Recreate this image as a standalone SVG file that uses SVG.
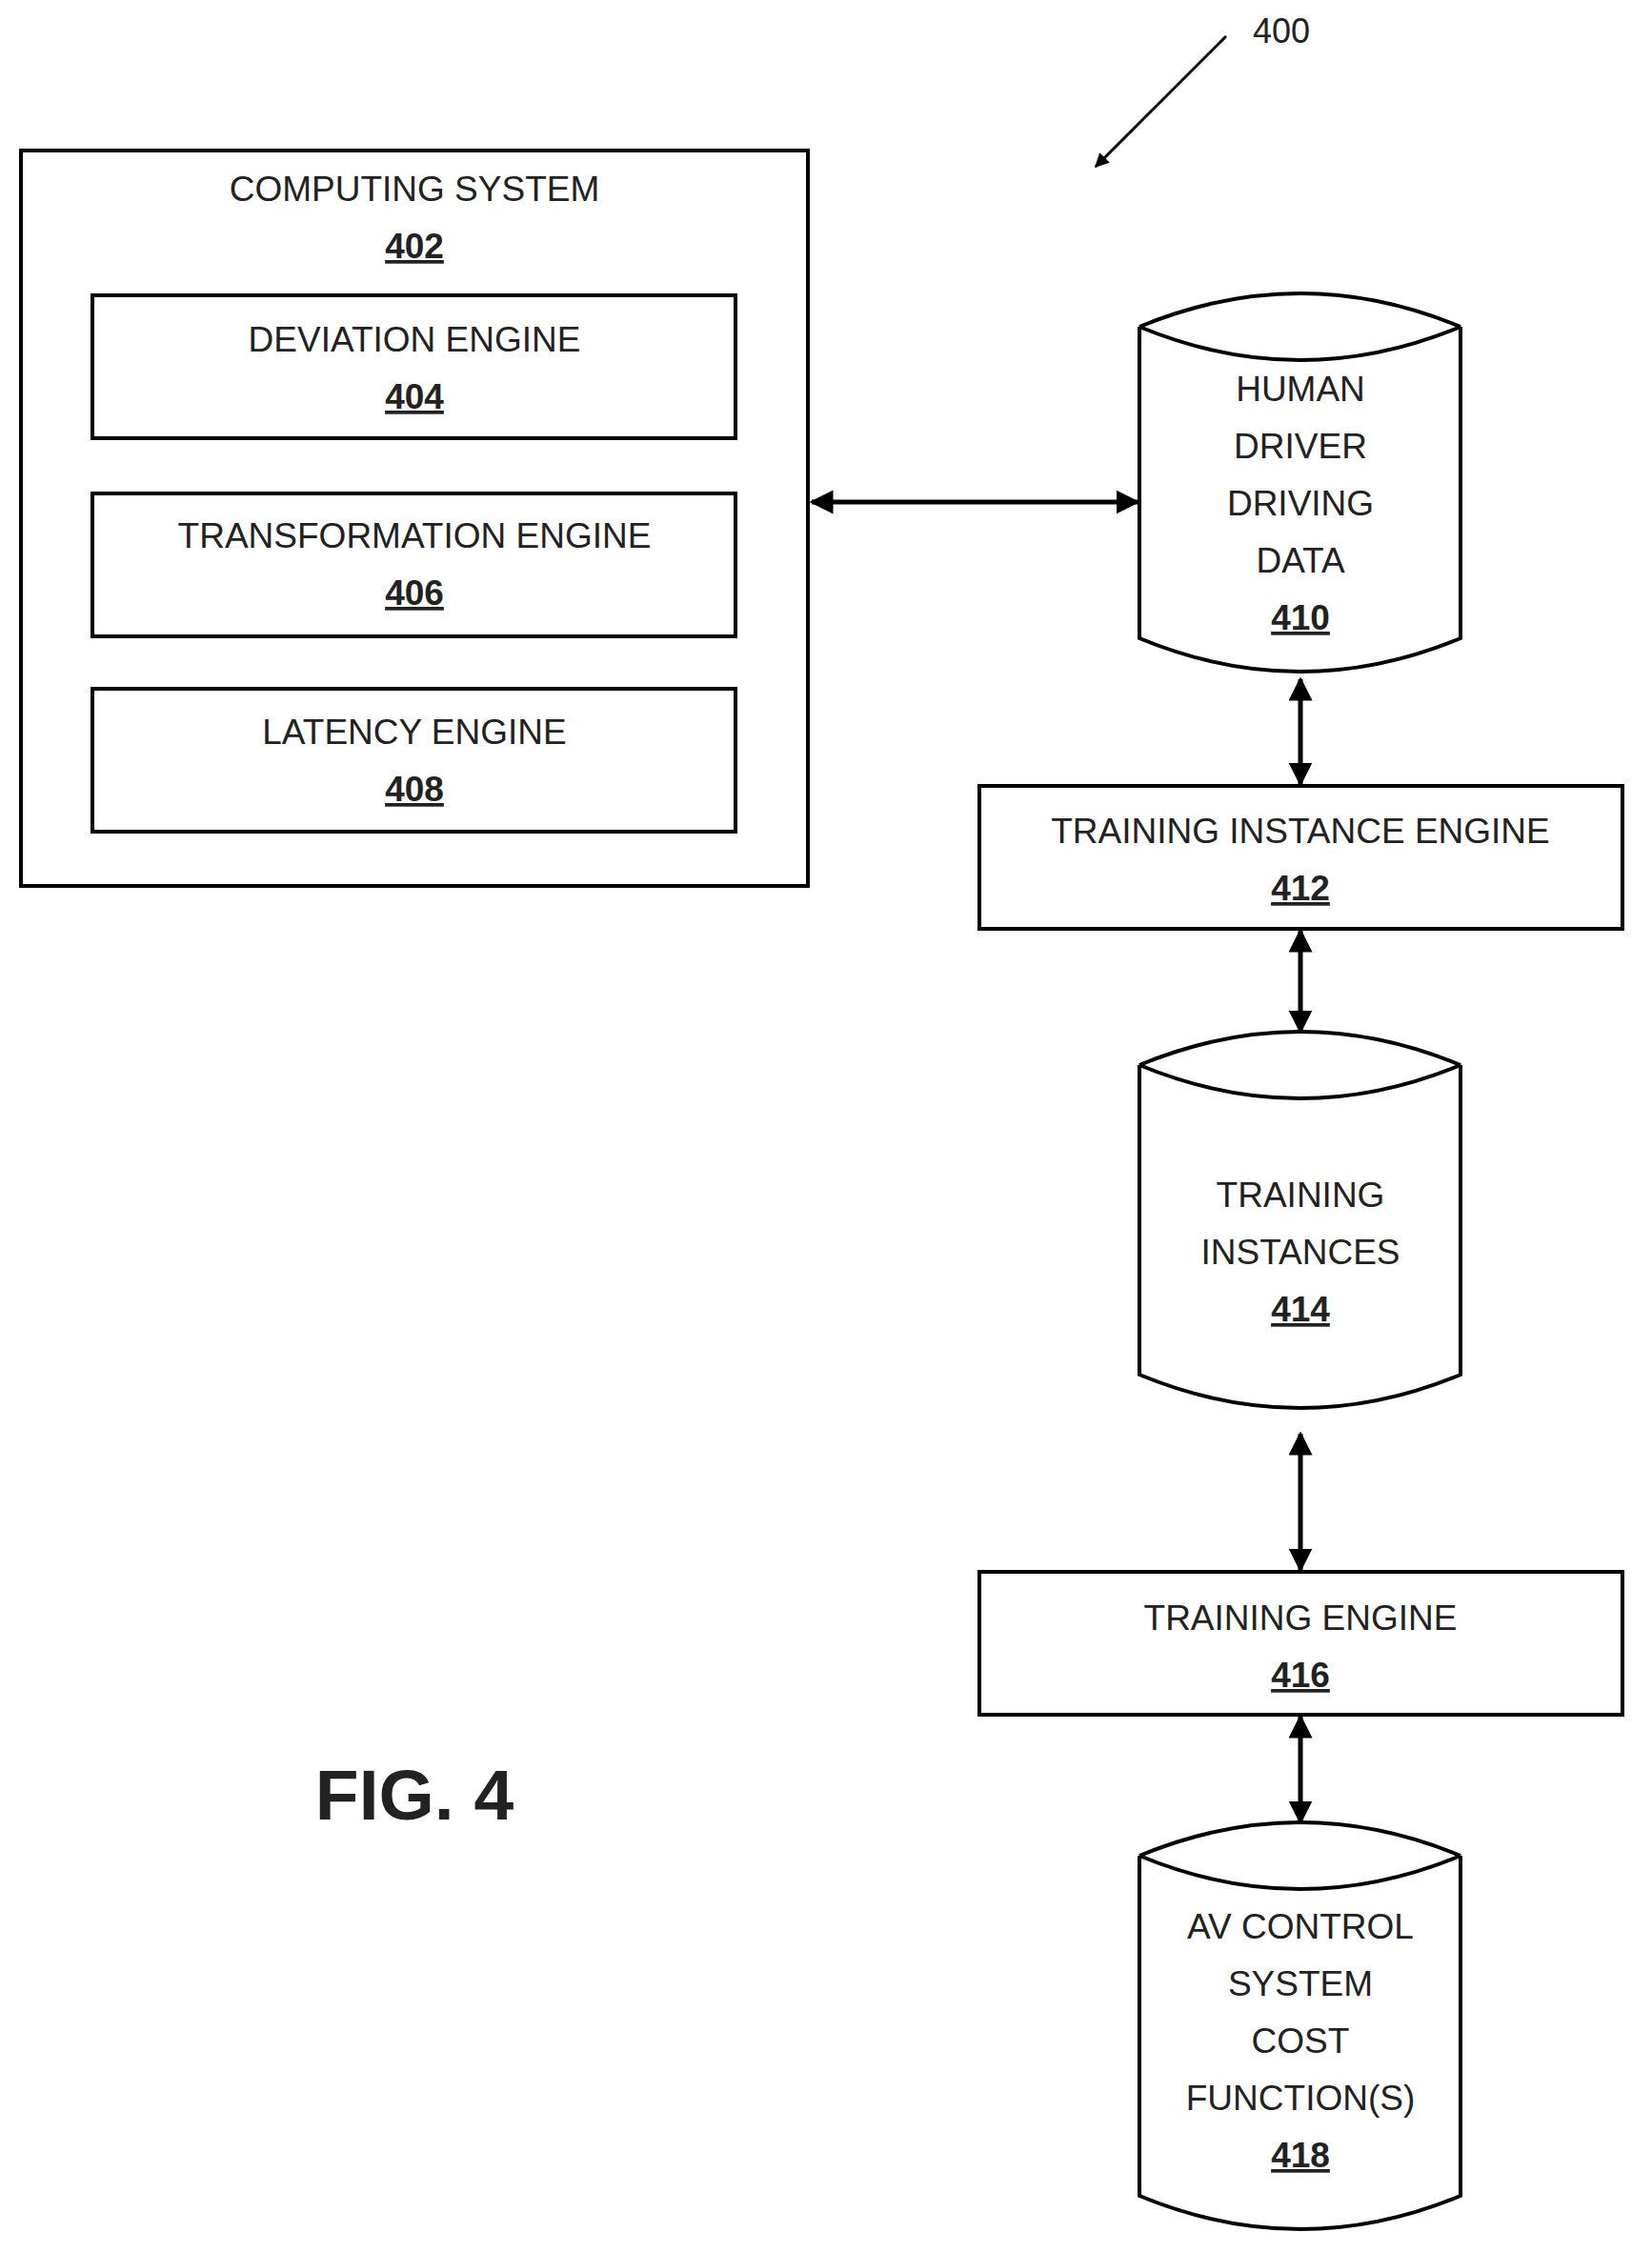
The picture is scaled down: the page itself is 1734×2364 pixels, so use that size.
<svg xmlns="http://www.w3.org/2000/svg" width="1734" height="2364" viewBox="0 0 1734 2364">
<style>
.b{fill:none;stroke:#000;stroke-width:4}
.t{font-family:"Liberation Sans",Arial,sans-serif;font-size:37px;text-anchor:middle;fill:#222}
.n{text-decoration:underline;font-weight:bold}
.c{fill:none;stroke:#000;stroke-width:5}
</style>
<defs>
<marker id="a" viewBox="0 0 10 10" refX="9" refY="5" markerWidth="5" markerHeight="5" orient="auto-start-reverse"><path d="M0,0L10,5L0,10z" fill="#000"/></marker>
</defs>
<rect width="1734" height="2364" fill="#fff"/>
<g id="n402"><rect class="b" x="22" y="158" width="826" height="772"/><text class="t" x="435" y="211">COMPUTING SYSTEM</text><text class="t n" x="435" y="271">402</text></g>
<g id="n404"><rect class="b" x="97" y="310" width="675" height="150"/><text class="t" x="435" y="369">DEVIATION ENGINE</text><text class="t n" x="435" y="429">404</text></g>
<g id="n406"><rect class="b" x="97" y="518" width="675" height="150"/><text class="t" x="435" y="575">TRANSFORMATION ENGINE</text><text class="t n" x="435" y="635">406</text></g>
<g id="n408"><rect class="b" x="97" y="723" width="675" height="150"/><text class="t" x="435" y="781">LATENCY ENGINE</text><text class="t n" x="435" y="841">408</text></g>
<g id="n410"><path class="b" d="M1196,343Q1365,273 1533,343M1196,343Q1365,413 1533,343M1196,343V670Q1365,740 1533,670V343"/>
<text class="t" x="1365" y="421">HUMAN</text><text class="t" x="1365" y="481">DRIVER</text><text class="t" x="1365" y="541">DRIVING</text><text class="t" x="1365" y="601">DATA</text><text class="t n" x="1365" y="661">410</text></g>
<g id="n412"><rect class="b" x="1028" y="825" width="675" height="150"/><text class="t" x="1365" y="885">TRAINING INSTANCE ENGINE</text><text class="t n" x="1365" y="945">412</text></g>
<g id="n414"><path class="b" d="M1196,1118Q1365,1048 1533,1118M1196,1118Q1365,1188 1533,1118M1196,1118V1443Q1365,1513 1533,1443V1118"/>
<text class="t" x="1365" y="1267">TRAINING</text><text class="t" x="1365" y="1327">INSTANCES</text><text class="t n" x="1365" y="1387">414</text></g>
<g id="n416"><rect class="b" x="1028" y="1650" width="675" height="150"/><text class="t" x="1365" y="1711">TRAINING ENGINE</text><text class="t n" x="1365" y="1771">416</text></g>
<g id="n418"><path class="b" d="M1196,1948Q1365,1878 1533,1948M1196,1948Q1365,2018 1533,1948M1196,1948V2305Q1365,2375 1533,2305V1948"/>
<text class="t" x="1365" y="2035">AV CONTROL</text><text class="t" x="1365" y="2095">SYSTEM</text><text class="t" x="1365" y="2155">COST</text><text class="t" x="1365" y="2215">FUNCTION(S)</text><text class="t n" x="1365" y="2275">418</text></g>
<g id="connectors">
<line class="c" x1="852" y1="527" x2="1194" y2="527" marker-start="url(#a)" marker-end="url(#a)"/>
<line class="c" x1="1365" y1="713" x2="1365" y2="823" marker-start="url(#a)" marker-end="url(#a)"/>
<line class="c" x1="1365" y1="977" x2="1365" y2="1083" marker-start="url(#a)" marker-end="url(#a)"/>
<line class="c" x1="1365" y1="1505" x2="1365" y2="1648" marker-start="url(#a)" marker-end="url(#a)"/>
<line class="c" x1="1365" y1="1802" x2="1365" y2="1913" marker-start="url(#a)" marker-end="url(#a)"/>
<line x1="1287" y1="38" x2="1150" y2="175" stroke="#000" stroke-width="3" marker-end="url(#a)"/>
</g>
<text class="t" x="1345" y="45" style="font-size:36px">400</text>
<text x="435" y="1910" style="font-family:'Liberation Sans',Arial,sans-serif;font-size:75px;font-weight:bold;text-anchor:middle" fill="#222">FIG. 4</text>
</svg>
